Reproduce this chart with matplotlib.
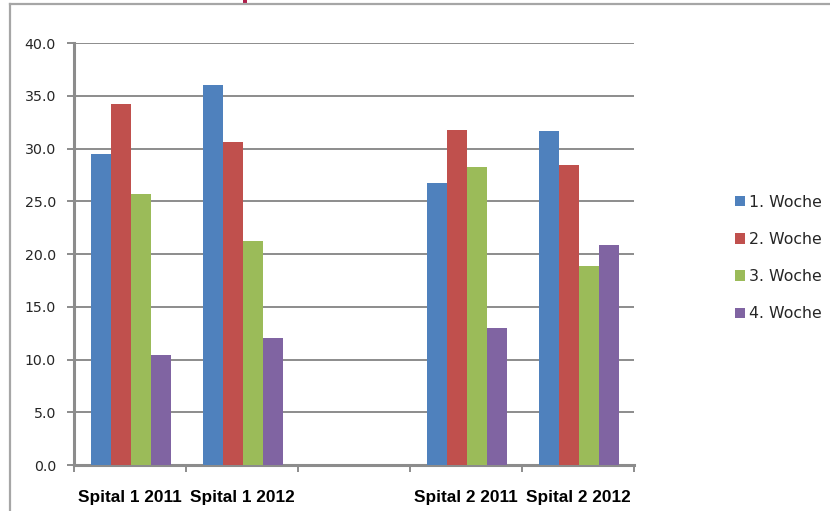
import matplotlib
matplotlib.use("Agg")
import matplotlib.pyplot as plt
import numpy as np
from matplotlib.lines import Line2D
from matplotlib.patches import Rectangle, Patch

categories = ["Spital 1 2011", "Spital 1 2012", "", "Spital 2 2011", "Spital 2 2012"]
series_names = ["1. Woche", "2. Woche", "3. Woche", "4. Woche"]
woche1 = [29.5, 36.0, np.nan, 26.7, 31.7]
woche2 = [34.2, 30.6, np.nan, 31.8, 28.4]
woche3 = [25.7, 21.2, np.nan, 28.2, 18.9]
woche4 = [10.4, 12.0, np.nan, 13.0, 20.9]
yticks = [0, 5, 10, 15, 20, 25, 30, 35, 40]
colors = ["#4F81BD", "#C0504D", "#9BBB59", "#8064A2"]

W, H = 830, 511
fig = plt.figure(figsize=(W / 100, H / 100), dpi=100)
ax = fig.add_axes([74 / W, 1 - 465 / H, (634 - 74) / W, (465 - 43) / H])

x = np.arange(len(categories))
bw = 0.18
series = [woche1, woche2, woche3, woche4]
for i, (vals, c) in enumerate(zip(series, colors)):
    ax.bar(x + (i - 1.5) * bw + 0.01, vals, width=bw, color=c, edgecolor="none",
           zorder=3, label=series_names[i])

ax.set_xlim(-0.5, len(categories) - 0.5)
ax.set_ylim(0, 40)
ax.set_yticks(yticks)
ax.set_yticklabels([f"{v:.1f}" for v in yticks], fontsize=10.2,
                   color="#262626", family="DejaVu Sans")
ax.yaxis.grid(True, color="#8c8c8c", linewidth=1.4, zorder=0)
ax.set_axisbelow(True)

ax.set_xticks(x)
ax.set_xticklabels(categories, fontsize=12.4, fontweight="bold",
                   family="Liberation Sans", color="#000000")
ax.set_xticks(np.arange(-0.5, len(categories)), minor=True)
ax.tick_params(axis="x", which="major", length=0, pad=18)
ax.tick_params(axis="x", which="minor", length=5, width=1.4, color="#8c8c8c")
ax.tick_params(axis="y", which="major", length=5, width=1.4, color="#8c8c8c", pad=8)

for s in ["top", "right"]:
    ax.spines[s].set_visible(False)
for s in ["left", "bottom"]:
    ax.spines[s].set_color("#8c8c8c")
    ax.spines[s].set_linewidth(2.2)

handles = [Patch(facecolor=c, edgecolor="none") for c in colors]
fig.legend(handles, series_names, loc="center left",
           bbox_to_anchor=(727 / W, 1 - 258 / H), frameon=False,
           handlelength=0.66, handleheight=0.66,
           handletextpad=0.22, labelspacing=1.42, borderpad=0,
           prop={"family": "DejaVu Sans", "size": 11.3})
for t in fig.legends[0].get_texts():
    t.set_color("#262626")

# outer frame (left and top edges visible)
fig.add_artist(Line2D([10 / W, 10 / W], [0, 1 - 4.5 / H], transform=fig.transFigure,
                      color="#a6a6a6", linewidth=1.6))
fig.add_artist(Line2D([10 / W, 1], [1 - 4.5 / H, 1 - 4.5 / H], transform=fig.transFigure,
                      color="#a6a6a6", linewidth=1.6))
# fragment of cut-off title
fig.add_artist(Rectangle((243 / W, 1 - 3.5 / H), 3.5 / W, 3.5 / H, transform=fig.transFigure,
                         facecolor="#B01E4A", edgecolor="none"))

fig.savefig("out.png", dpi=100)
